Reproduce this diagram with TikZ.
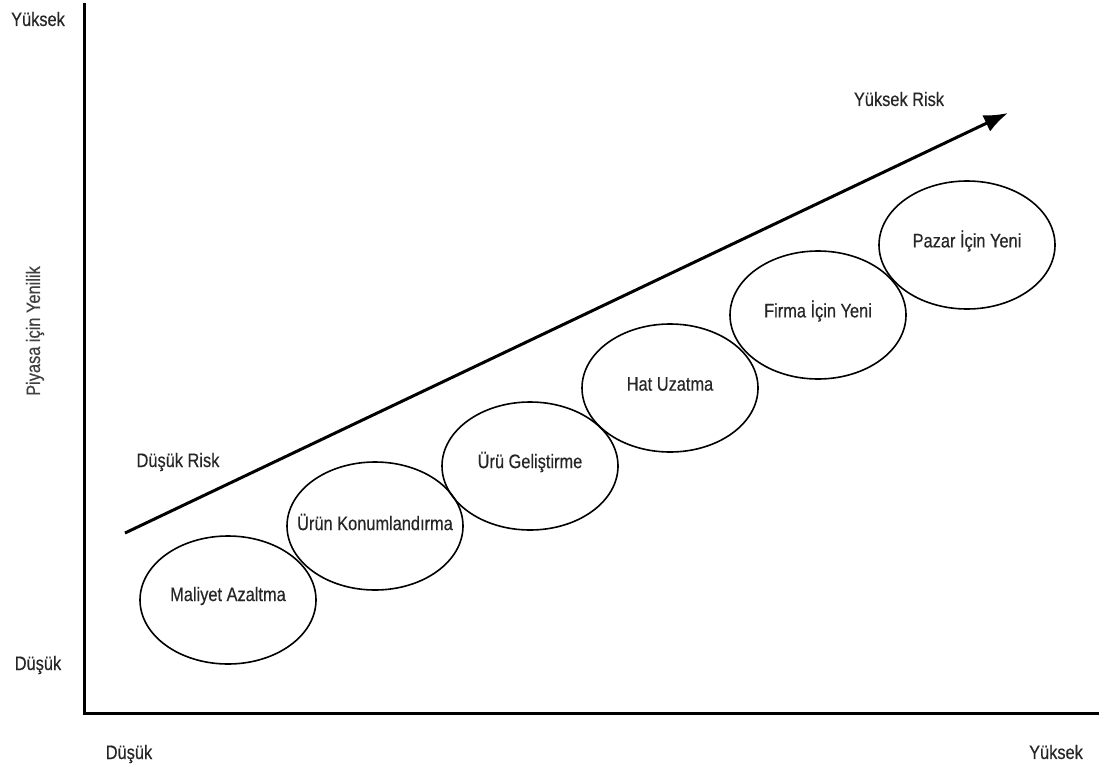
\documentclass[tikz,border=0pt]{standalone}
\usepackage{fontspec}
\setmainfont{Liberation Sans}[FakeStretch=0.84, UprightFeatures={FakeBold=0.4}]
\usetikzlibrary{shapes.geometric,arrows.meta}
\begin{document}
\begin{tikzpicture}[x=1pt,y=-1pt,
  txt/.style={font=\fontsize{19.5}{21}\selectfont, text=black!85, inner sep=0pt},
  stage/.style={ellipse, draw, line width=1.6pt, minimum width=176pt,
    minimum height=128pt, inner sep=0pt},
  stagetext/.style={txt, yshift=4pt},
  lbl/.style={txt},
  axis/.style={line width=3pt, line join=miter},
  riskarrow/.style={line width=3pt, -{Latex[length=24pt,width=18pt]}}]
\useasboundingbox (0,0) rectangle (1099,773);

% axes
\coordinate (ytop) at (84,3);
\coordinate (origin) at (84,713);
\coordinate (xend) at (1099,713);
\draw[axis] (ytop) -- (origin) -- (xend);

% axis labels
\node[lbl] (yhigh) at (38,19) {Yüksek};
\node[lbl] (ylow) at (38,665) {Düşük};
\node[lbl, rotate=90, text=black!75] (ytitle) at (35,331) {Piyasa için Yenilik};
\node[lbl] (xlow) at (129,754) {Düşük};
\node[lbl] (xhigh) at (1056,752) {Yüksek};

% risk arrow
\coordinate (lowrisk) at (125,533);
\coordinate (highrisk) at (1008,113);
\draw[riskarrow] (lowrisk) -- (highrisk);
\node[lbl] (lowrisklbl) at (178,462) {Düşük Risk};
\node[lbl] (highrisklbl) at (899,99) {Yüksek Risk};

% innovation stages
\node[stage] (s1) at (228,600) {};
\node[stage] (s2) at (375,526) {};
\node[stage] (s3) at (530,466) {};
\node[stage] (s4) at (670,388) {};
\node[stage] (s5) at (818,315) {};
\node[stage] (s6) at (967,245) {};
\node[stagetext] (t1) at (s1) {Maliyet Azaltma};
\node[stagetext] (t2) at (s2) {Ürün Konumlandırma};
\node[stagetext] (t3) at (s3) {Ürü Geliştirme};
\node[stagetext] (t4) at (s4) {Hat Uzatma};
\node[stagetext] (t5) at (s5) {Firma İçin Yeni};
\node[stagetext] (t6) at (s6) {Pazar İçin Yeni};
\end{tikzpicture}
\end{document}
